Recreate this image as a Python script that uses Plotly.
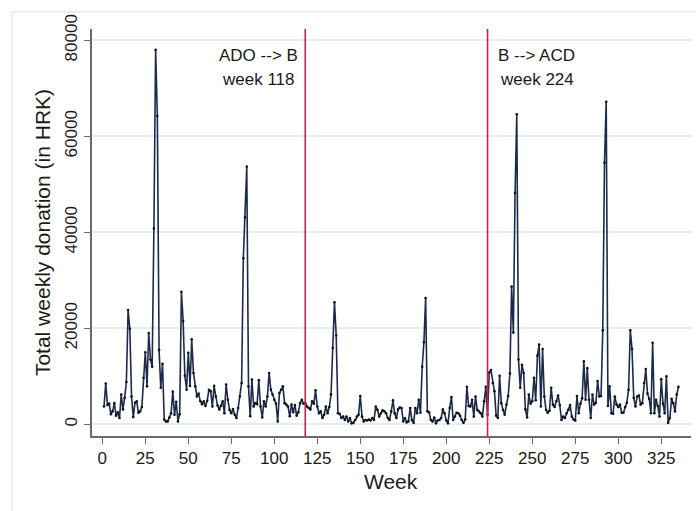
import plotly.graph_objects as go

# Total weekly donations (HRK), weeks 1..335
donations = [
    3700, 8500, 4000, 4300, 2100, 2700, 4400, 1800, 2500, 1300, 6200, 3100, 5500, 8800, 23800, 19900,
    5800, 1500, 4500, 4800, 2400, 2700, 3600, 9700, 15000, 7900, 19000, 13500, 12000, 40800, 78000, 64200,
    15500, 7600, 12600, 1000, 600, 600, 1400, 2300, 6800, 2000, 4700, 600, 2100, 27600, 21500, 10100,
    7200, 14900, 8000,
    17700, 10700, 7900, 5800, 6400, 4800, 4200, 4800, 3800, 4900, 7200, 6900, 3700, 8000, 5800, 3900,
    3100, 3800, 4800, 2300, 8300, 5100, 3000, 2300, 3200, 2000, 1300, 3400, 5800, 8600,
    34600, 43100, 53700, 7900, 1700, 9300, 3700, 4400, 4200, 9200, 3700, 1400, 4800, 3700, 5800, 10700,
    7200, 6200, 5100, 4300, 600, 6500, 7200, 7900, 4400, 4100, 3700, 1700, 4100, 2500, 4000, 1800, 2500,
    4400, 5100, 4300, 4400, 3700, 3400, 3100, 4800, 4300, 7100, 3700, 2300, 2700, 1300, 2000, 3700,
    2300, 3600, 6200, 15900, 25400, 18500, 2300, 2200, 1300, 1600, 900, 1600, 600, 1300, 200, 300,
    900, 1600, 2000, 5900, 1600, 600, 900, 800, 1000, 800, 1300, 900, 3700, 3000, 1600, 2300, 2900,
    2700, 2300, 1300, 900,
    2700, 5000, 2300, 1300, 3100, 3500, 3400, 600, 1300, 400, 600, 3400, 900, 300, 3400, 2300, 5100,
    2400, 12000, 17100, 26300,
    2700, 2500, 900, 600, 1400, 200, 800, 900, 1300, 3100, 2300, 800, 200, 3400, 5700, 900, 1600, 2400,
    2300, 1800, 900, 300, 1000, 7800, 3800, 3700, 5100, 1600, 5800, 3000, 2700, 2300, 1600, 4800, 7800,
    2000, 10800, 11300, 8600, 6900, 1800, 1300, 10100, 4400, 3000, 2000, 4100, 5900, 10600, 28700, 19100,
    48200, 64600, 13500, 7600, 12400, 10700, 3100, 1400, 6200, 4300, 4800, 9700, 5000, 14300, 16600, 3700,
    15700, 5800, 3000, 2400, 2800, 7600, 4100, 3600, 4800, 6000, 4000, 900, 1600, 1300, 2300, 3000,
    4000, 1600, 1000, 800, 5900, 2300, 4300, 5400, 13100, 5100, 11700, 5100, 1300, 6200, 4100, 4500,
    9000, 5800, 5900, 19600, 54500, 67200,
    3800, 7900, 2300, 2200, 5800, 4100, 3600, 4100, 2400, 2400, 3600, 4500, 7200, 19600, 15700, 5500,
    3700, 5800, 6000, 4100, 4400, 8600, 11500, 6400, 5300, 2300, 17000, 2300, 5100, 3800, 1600, 9400,
    4300, 2300, 10000, 300, 1300, 5300, 4400, 2700, 6200, 7800,
]
weeks = list(range(1, len(donations) + 1))

# Regime switches
switch_weeks = [118, 224]
switch_labels = ["ADO --> B", "B --> ACD"]

x_ticks = list(range(0, 326, 25))
y_ticks = [0, 20000, 40000, 60000, 80000]

FONT = "Liberation Sans, Arial, sans-serif"
TEXT = "#1a1a1a"
AXIS = "#6a6a6a"
GRID = "#e4ecef"
NAVY = "#1c2a4c"
RED = "#d0204a"

fig = go.Figure()
fig.add_trace(go.Scatter(
    x=weeks, y=donations, mode="lines+markers",
    line=dict(color=NAVY, width=1.6),
    marker=dict(size=2.6, color="#111111"),
    showlegend=False, hoverinfo="x+y",
))

shapes = []
for wk in switch_weeks:
    shapes.append(dict(type="line", xref="x", yref="paper", x0=wk, x1=wk, y0=0, y1=1,
                       line=dict(color=RED, width=1.6), layer="above"))
# light frame around the whole graph region
shapes.append(dict(type="rect", xref="paper", yref="paper",
                   x0=-0.1336, x1=1.03, y0=-0.25, y1=1.0425,
                   line=dict(color=GRID, width=1.5), layer="below"))

annotations = []
offsets = [-47, 49]
for wk, lab, dx in zip(switch_weeks, switch_labels, offsets):
    annotations.append(dict(x=wk, y=0.936, xref="x", yref="paper", xshift=dx, text=lab,
                            showarrow=False, xanchor="center", yanchor="middle",
                            font=dict(family=FONT, size=17, color=TEXT)))
    annotations.append(dict(x=wk, y=0.875, xref="x", yref="paper", xshift=dx, text=f"week {wk}",
                            showarrow=False, xanchor="center", yanchor="middle",
                            font=dict(family=FONT, size=17, color=TEXT)))
annotations.append(dict(x=0.4992, y=-0.113, xref="paper", yref="paper", text="Week",
                        showarrow=False, xanchor="center", yanchor="middle",
                        font=dict(family=FONT, size=21, color=TEXT)))
annotations.append(dict(x=-0.0835, y=0.501, xref="paper", yref="paper",
                        text="Total weekly donation (in HRK)", textangle=-90,
                        showarrow=False, xanchor="center", yanchor="middle",
                        font=dict(family=FONT, size=21, color=TEXT)))

fig.update_layout(
    width=696, height=511, autosize=False,
    margin=dict(l=92, r=5, t=29, b=75, pad=0),
    paper_bgcolor="white", plot_bgcolor="white",
    shapes=shapes, annotations=annotations,
    xaxis=dict(range=[-5.99, 342.3], tickvals=x_ticks, ticks="outside", ticklen=6,
               tickcolor=AXIS, tickwidth=1.3, showline=True, linecolor=AXIS, linewidth=1.5,
               showgrid=False, zeroline=False,
               tickfont=dict(family=FONT, size=17, color=TEXT)),
    yaxis=dict(range=[-2440, 82350], tickvals=y_ticks, ticks="outside", ticklen=6,
               tickcolor=AXIS, tickwidth=1.3, showline=True, linecolor=AXIS, linewidth=1.5,
               showgrid=True, gridcolor=GRID, gridwidth=1.5, zeroline=False,
               tickangle=-90, tickformat="d",
               tickfont=dict(family=FONT, size=17, color=TEXT)),
)

fig.write_html("out.html")
